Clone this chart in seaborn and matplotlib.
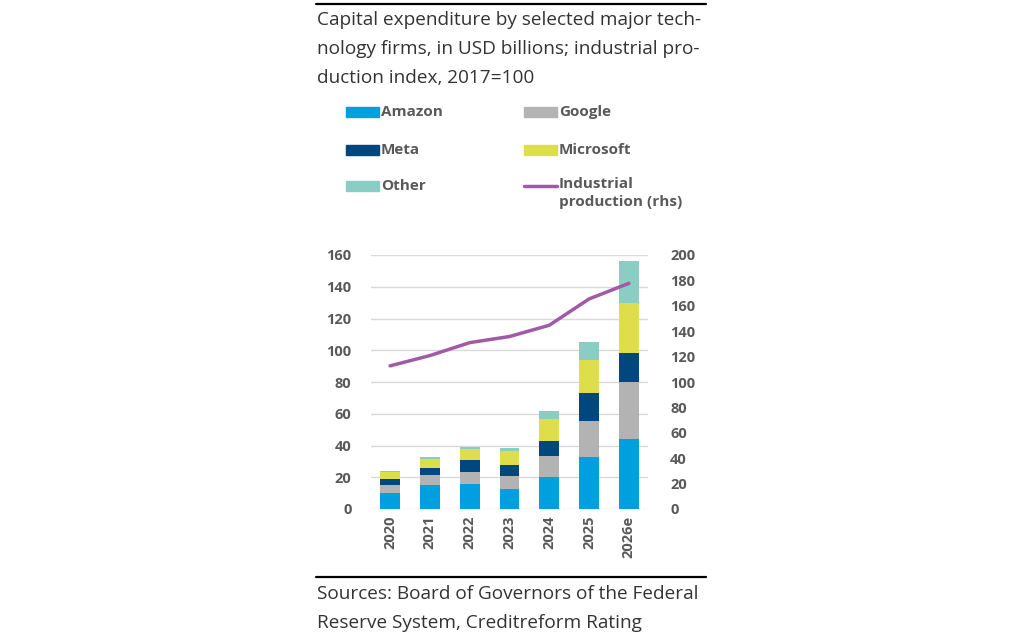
import numpy as np
import pandas as pd
import seaborn as sns
import matplotlib.pyplot as plt
from matplotlib.patches import Rectangle
from matplotlib.lines import Line2D

years = ["2020", "2021", "2022", "2023", "2024", "2025", "2026e"]
amazon = [10.0, 15.0, 15.7, 12.8, 20.1, 32.7, 44.0]
google = [5.0, 6.2, 7.6, 8.0, 13.4, 22.9, 35.7]
meta = [4.0, 4.6, 7.7, 6.7, 9.3, 17.4, 18.8]
microsoft = [4.5, 5.9, 6.7, 9.0, 13.8, 20.9, 31.1]
other = [0.5, 0.8, 1.5, 1.7, 5.0, 11.6, 26.6]
industrial = [112.7, 120.8, 131.0, 135.8, 144.7, 165.4, 177.7]

series = ["Amazon", "Google", "Meta", "Microsoft", "Other"]
colors = {"Amazon": "#009fe0", "Google": "#b3b3b3", "Meta": "#00467f",
          "Microsoft": "#dedd4a", "Other": "#8acdc2"}
line_color = "#a15ba6"

df = pd.DataFrame({"year": years, "Amazon": amazon, "Google": google,
                   "Meta": meta, "Microsoft": microsoft, "Other": other})
cum = df[series].cumsum(axis=1)
cum["year"] = years

sns.set_theme(style="white")
plt.rcParams["font.family"] = ["Open Sans", "DejaVu Sans"]
tick_col = "#595959"
text_col = "#333333"

fig = plt.figure(figsize=(10.24, 6.4), dpi=100)
ax = fig.add_axes([371 / 1024, 1 - 509 / 640, 277 / 1024, 254 / 640])

# stacked bars: draw cumulative totals from the top layer down
for s in reversed(series):
    sns.barplot(data=cum, x="year", y=s, color=colors[s], width=0.5,
                saturation=1, linewidth=0, ax=ax, zorder=2)

ax.set_ylim(0, 160)
ax.set_xlim(-0.48, 6.48)
ax.set_yticks(range(0, 161, 20))
ax.yaxis.grid(True, color="#d9d9d9", linewidth=1, zorder=0)
ax.set_axisbelow(True)
ax.set_xlabel("")
ax.set_ylabel("")
for sp in ax.spines.values():
    sp.set_visible(False)
ax.tick_params(axis="y", length=0, pad=14, labelsize=10.5, labelcolor=tick_col)
ax.tick_params(axis="x", length=0, pad=5, labelsize=10.5, labelcolor=tick_col,
               labelrotation=90)
for lab in ax.get_xticklabels() + ax.get_yticklabels():
    lab.set_fontweight("bold")

ax2 = ax.twinx()
sns.lineplot(x=np.arange(len(years)), y=industrial, color=line_color,
             linewidth=2.5, ax=ax2)
ax2.set_ylim(0, 200)
ax2.set_yticks(range(0, 201, 20))
for sp in ax2.spines.values():
    sp.set_visible(False)
ax2.tick_params(axis="y", length=0, pad=16, labelsize=10.5, labelcolor=tick_col)
for lab in ax2.get_yticklabels():
    lab.set_fontweight("bold")
ax2.grid(False)

# title and source
fig.add_artist(Line2D([316 / 1024, 706 / 1024], [1 - 4 / 640, 1 - 4 / 640],
                      color="black", linewidth=1.6))
fig.text(317 / 1024, 1 - 11 / 640,
         "Capital expenditure by selected major tech-\n"
         "nology firms, in USD billions; industrial pro-\n"
         "duction index, 2017=100",
         ha="left", va="top", fontsize=13.7, color=text_col, linespacing=1.78)

fig.add_artist(Line2D([316 / 1024, 706 / 1024], [1 - 577 / 640, 1 - 577 / 640],
                      color="black", linewidth=1.6))
fig.text(317 / 1024, 1 - 585 / 640,
         "Sources: Board of Governors of the Federal\n"
         "Reserve System, Creditreform Rating",
         ha="left", va="top", fontsize=13.7, color=text_col, linespacing=1.78)

# legend
entries = [("Amazon", 346, 112), ("Google", 524, 112),
           ("Meta", 346, 150), ("Microsoft", 524, 150),
           ("Other", 346, 186)]
for name, px, py in entries:
    fig.add_artist(Rectangle((px / 1024, 1 - (py + 5) / 640), 33 / 1024, 10 / 640,
                             color=colors[name], transform=fig.transFigure))
    fig.text((px + 35) / 1024, 1 - py / 640, name, ha="left", va="center",
             fontsize=11, fontweight="bold", color=tick_col)
fig.add_artist(Line2D([524 / 1024, 557 / 1024], [1 - 186 / 640, 1 - 186 / 640],
                      color=line_color, linewidth=2.5))
fig.text(559 / 1024, 1 - 177 / 640, "Industrial\nproduction (rhs)",
         ha="left", va="top", fontsize=11, fontweight="bold", color=tick_col,
         linespacing=1.35)

fig.savefig("out.png", dpi=100)
